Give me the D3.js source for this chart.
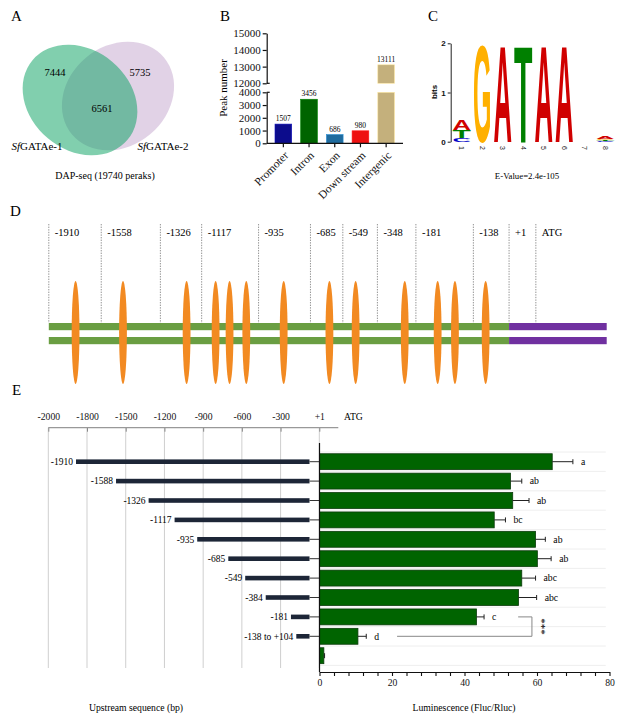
<!DOCTYPE html>
<html lang="en">
<head>
<meta charset="UTF-8">
<title>SfGATAe DAP-seq and promoter activity</title>
<script src="https://d3js.org/d3.v7.min.js"></script>
<style>
  body { margin: 0; background: #fff; }
  svg { display: block; font-family: "Liberation Serif", "Times New Roman", serif; }
</style>
</head>
<body>
<div id="chart"></div>
<script>
// ---------- data ----------
// A: overlap of peaks
const vennSets = ["GATAe-1", "GATAe-2"];
const vennCounts = [7444, 6561, 5735];       // only set 1, both, only set 2
const vennTotal = 19740;

// B: peak distribution
const peakCategories = ["Promoter", "Intron", "Exon", "Down stream", "Intergenic"];
const peakCounts = [1507, 3456, 686, 980, 13111];
const peakColors = ["#0c0c8c", "#006400", "#1f6b9e", "#ee1111", "#c4b07c"];
const peakLowTicks = [0, 1000, 2000, 3000, 4000];
const peakHighTicks = [12000, 13000, 14000, 15000];

// C: motif logo
const motifPositions = ["1", "2", "3", "4", "5", "6", "7", "8"];
const motifBases = [["C", "T", "A"], ["G"], ["A"], ["T"], ["A"], ["A"], [], ["C", "T", "G", "A"]];
const motifBits = [[0.07, 0.16, 0.2], [2.0], [2.0], [2.0], [2.0], [2.0], [], [0.015, 0.02, 0.03, 0.045]];
const baseColors = { A: "#d00000", C: "#0000c8", G: "#ffb000", T: "#008000" };
const eValue = "E-Value=2.4e-105";

// D: promoter schematic (positions on a 0-100 schematic track)
const markerLabels = ["-1910", "-1558", "-1326", "-1117", "-935", "-685", "-549", "-348", "-181", "-138", "+1", "ATG"];
const markerTrack = [0, 9.4, 20.0, 27.4, 37.6, 46.9, 52.7, 58.9, 65.8, 76.1, 82.5, 87.3];
const gataSiteTrack = [4.8, 13.3, 24.7, 29.9, 32.4, 35.4, 42.1, 50.3, 55.0, 63.8, 69.7, 72.8, 78.3];
const tssTrack = 82.5;

// E: deletion constructs and LUC activity
const upstreamTicks = ["-2000", "-1800", "-1500", "-1200", "-900", "-600", "-300", "+1"];
const constructStarts = [-1910, -1588, -1326, -1117, -935, -685, -549, -384, -181, -138];
const constructLabels = ["-1910", "-1588", "-1326", "-1117", "-935", "-685", "-549", "-384", "-181", "-138 to +104"];
const lucMeans = [64.2, 52.7, 53.3, 48.2, 59.6, 60.1, 55.8, 54.9, 43.3, 10.6, 1.2];
const lucErrors = [5.7, 3.1, 4.5, 3.1, 2.7, 3.8, 3.8, 5.0, 2.1, 2.3, 0.2];
const sigLetters = ["a", "ab", "ab", "bc", "ab", "ab", "abc", "abc", "c", "d", ""];

// ---------- setup ----------
const W = 624, H = 719;
const serif = "'Liberation Serif', 'Times New Roman', serif";
const sans = "'Liberation Sans', Arial, Helvetica, sans-serif";

const svg = d3.select("#chart").append("svg")
    .attr("width", W)
    .attr("height", H);
svg.append("rect").attr("width", W).attr("height", H).attr("fill", "#fff");

function styleAxis(g, size, family, color) {
    g.attr("font-family", family).attr("font-size", size);
    g.selectAll("line, path").attr("stroke", color);
    g.selectAll("text").attr("fill", "#111");
}

// panel letters
[["A", 11, 21], ["B", 220, 21], ["C", 428, 21], ["D", 10, 216], ["E", 12, 395]].forEach(([t, x, y]) => {
    svg.append("text").attr("x", x).attr("y", y).attr("font-size", 15).text(t);
});

// ---------- A: Venn ----------
const gA = svg.append("g");
gA.append("ellipse")
    .attr("cx", 118).attr("cy", 96).attr("rx", 60).attr("ry", 50)
    .attr("transform", "rotate(-40,118,96)")
    .attr("fill", "#c3a5cd").attr("fill-opacity", 0.5);
gA.append("ellipse")
    .attr("cx", 80).attr("cy", 100).attr("rx", 62).attr("ry", 50)
    .attr("transform", "rotate(40,80,100)")
    .attr("fill", "#04a05e").attr("fill-opacity", 0.5);

const vennNumPos = [[55, 72], [102, 108], [140, 72]];
vennCounts.forEach((c, i) => {
    gA.append("text")
        .attr("x", vennNumPos[i][0]).attr("y", vennNumPos[i][1])
        .attr("dy", "0.35em").attr("text-anchor", "middle")
        .attr("font-size", 10.5).text(c);
});
[[37, 150], [163, 150]].forEach(([x, y], i) => {
    const t = gA.append("text").attr("x", x).attr("y", y)
        .attr("text-anchor", "middle").attr("font-size", 11);
    t.append("tspan").attr("font-style", "italic").text("Sf");
    t.append("tspan").text(vennSets[i]);
});
gA.append("text").attr("x", 105).attr("y", 179).attr("text-anchor", "middle")
    .attr("font-size", 10).text(`DAP-seq (${vennTotal} peraks)`);

// ---------- B: peak distribution ----------
const gB = svg.append("g");
const axB = 266.7, baseB = 143.3;
const xB = d3.scaleBand().domain(peakCategories).range([270.5, 399])
    .paddingInner(0.35).paddingOuter(0.175);
const yLow = d3.scaleLinear().domain([0, 4000]).range([baseB, 92.3]);
const yHigh = d3.scaleLinear().domain([12000, 15000]).range([83.3, 33.3]);

peakCounts.forEach((v, i) => {
    const cat = peakCategories[i];
    const x0 = xB(cat), bw = xB.bandwidth();
    const edge = d3.color(peakColors[i]).brighter(0.8);
    const lowTop = yLow(Math.min(v, 4000));
    gB.append("rect").attr("x", x0).attr("y", lowTop)
        .attr("width", bw).attr("height", baseB - lowTop)
        .attr("fill", peakColors[i]).attr("stroke", edge).attr("stroke-width", 0.6);
    let labelY = lowTop;
    if (v > 4000) {
        const hiTop = yHigh(v);
        gB.append("rect").attr("x", x0).attr("y", hiTop)
            .attr("width", bw).attr("height", yHigh(12000) - hiTop)
            .attr("fill", peakColors[i]).attr("stroke", edge).attr("stroke-width", 0.6);
        labelY = hiTop;
    }
    gB.append("text").attr("x", x0 + bw / 2).attr("y", labelY - 3)
        .attr("text-anchor", "middle").attr("font-size", 7.5).text(v);
});

const gBl = gB.append("g").attr("transform", `translate(${axB},0)`)
    .call(d3.axisLeft(yLow).tickValues(peakLowTicks).tickFormat(d3.format("d"))
        .tickSize(4).tickSizeOuter(0).tickPadding(2));
const gBh = gB.append("g").attr("transform", `translate(${axB},0)`)
    .call(d3.axisLeft(yHigh).tickValues(peakHighTicks).tickFormat(d3.format("d"))
        .tickSize(4).tickSizeOuter(0).tickPadding(2));
[gBl, gBh].forEach(g => { styleAxis(g, 11, serif, "#111"); g.selectAll("line, path").attr("stroke-width", 1.2); });
// break marks
[yHigh(12000), yLow(4000)].forEach(y => {
    gB.append("line").attr("x1", axB).attr("x2", axB + 3).attr("y1", y).attr("y2", y)
        .attr("stroke", "#111").attr("stroke-width", 1.2);
});
const gBx = gB.append("g").attr("transform", `translate(0,${baseB})`)
    .call(d3.axisBottom(xB).tickSize(4).tickSizeOuter(0));
gBx.select(".domain").remove();
styleAxis(gBx, 11.5, serif, "#111");
gBx.selectAll("line").attr("stroke-width", 1.2);
gBx.selectAll("text")
    .attr("y", 0).attr("dy", "0.35em")
    .attr("transform", "translate(3,10) rotate(-45)")
    .style("text-anchor", "end");
gB.append("line").attr("x1", axB).attr("x2", 403).attr("y1", baseB).attr("y2", baseB)
    .attr("stroke", "#111").attr("stroke-width", 1.2);
gB.append("text").attr("transform", `translate(227,88) rotate(-90)`)
    .attr("text-anchor", "middle").attr("font-size", 11).text("Peak number");

// ---------- C: motif logo ----------
const gC = svg.append("g");
const axC = 450.7;
const yC = d3.scaleLinear().domain([0, 2]).range([141.7, 43.3]);
const xC = d3.scaleBand().domain(motifPositions).range([451.5, 615.5]).paddingInner(0.1).paddingOuter(0.05);

function glyph(ch, x, yTop, w, h, color) {
    const t = gC.append("text").text(ch)
        .attr("font-family", sans).attr("font-weight", "bold")
        .attr("font-size", 100).attr("fill", color);
    const bw = t.node().getBBox().width;
    const cap = 71.6;
    t.attr("transform", `translate(${x},${yTop + h}) scale(${w / bw},${h / cap})`);
}

motifPositions.forEach((p, i) => {
    let acc = 0;
    motifBases[i].forEach((b, j) => {
        const v = motifBits[i][j];
        const yBot = yC(acc), yTop = yC(acc + v);
        glyph(b, xC(p), yTop, xC.bandwidth(), yBot - yTop, baseColors[b]);
        acc += v;
    });
});
const gCy = gC.append("g").attr("transform", `translate(${axC},0)`)
    .call(d3.axisLeft(yC).tickValues([0, 1, 2]).tickFormat(d3.format("d")).tickSize(3).tickSizeOuter(0).tickPadding(2));
styleAxis(gCy, 8, sans, "#222");
gCy.attr("font-weight", "bold");
motifPositions.forEach(p => {
    gC.append("text")
        .attr("transform", `translate(${xC(p) + xC.bandwidth() / 2},146) rotate(90)`)
        .attr("dy", "0.35em").attr("font-family", sans).attr("font-size", 7).attr("fill", "#222").text(p);
});
gC.append("text").attr("transform", "translate(437,92) rotate(-90)")
    .attr("text-anchor", "middle").attr("font-family", sans).attr("font-weight", "bold")
    .attr("font-size", 8).text("bits");
gC.append("text").attr("x", 527).attr("y", 179).attr("text-anchor", "middle")
    .attr("font-size", 8.8).text(eValue);

// ---------- D: promoter schematic ----------
const gD = svg.append("g");
const xD = d3.scaleLinear().domain([0, 100]).range([48.8, 606.7]);
const strandY = [323, 337], strandH = 7.2;
markerTrack.forEach((m, i) => {
    gD.append("line").attr("x1", xD(m)).attr("x2", xD(m)).attr("y1", 224).attr("y2", strandY[0])
        .attr("stroke", "#666").attr("stroke-width", 0.7).attr("stroke-dasharray", "1.4,1.2");
    gD.append("text").attr("x", xD(m) + 6).attr("y", 236).attr("font-size", 10.5).text(markerLabels[i]);
});
strandY.forEach(y => {
    gD.append("rect").attr("x", xD(0)).attr("y", y).attr("width", xD(tssTrack) - xD(0)).attr("height", strandH)
        .attr("fill", "#6a9e42");
    gD.append("rect").attr("x", xD(tssTrack)).attr("y", y).attr("width", xD(100) - xD(tssTrack)).attr("height", strandH)
        .attr("fill", "#7030a0");
});
gataSiteTrack.forEach(s => {
    gD.append("ellipse").attr("cx", xD(s)).attr("cy", 332.5).attr("rx", 3.9).attr("ry", 51.5)
        .attr("fill", "#f28a22");
});

// ---------- E: deletion constructs ----------
const gE = svg.append("g");
const rowIds = d3.range(lucMeans.length);
const yE = d3.scaleBand().domain(rowIds).range([452, 665.4]).paddingInner(0.18).paddingOuter(0.09);
const xE = d3.scaleLinear().domain([0, 80]).range([319.5, 609.5]);
const xUp = d3.scalePoint().domain(upstreamTicks).range([48.3, 319.3]);
const xCon = d3.scaleLinear().domain([-1910, -138]).range([76, 296.3]);
const rowMid = i => yE(i) + yE.bandwidth() / 2;
const axisTopY = 427.7, tickLen = 10;

// vertical grid of the upstream axis
upstreamTicks.forEach(t => {
    gE.append("line").attr("x1", xUp(t)).attr("x2", xUp(t)).attr("y1", axisTopY).attr("y2", 668)
        .attr("stroke", "#cfcfcf").attr("stroke-width", 1);
});
const gUp = gE.append("g").attr("transform", `translate(0,${axisTopY})`)
    .call(d3.axisTop(xUp).tickSizeInner(-4).tickSizeOuter(0).tickPadding(8));
gUp.select(".domain").remove();
styleAxis(gUp, 9.7, serif, "#888");
gE.append("line").attr("x1", 48.3).attr("x2", 338.3).attr("y1", axisTopY).attr("y2", axisTopY)
    .attr("stroke", "#999").attr("stroke-width", 1.2);
gE.append("text").attr("x", 344).attr("y", axisTopY - 8).attr("font-size", 9.7).text("ATG");

// construct bars
constructStarts.forEach((s, i) => {
    const x0 = xCon(s), x1 = xE(0) - tickLen;
    gE.append("rect").attr("x", x0).attr("y", rowMid(i) - 2.3).attr("width", x1 - x0).attr("height", 4.6)
        .attr("fill", "#1d2637");
    gE.append("text").attr("x", x0 - 3).attr("y", rowMid(i)).attr("dy", "0.35em")
        .attr("text-anchor", "end").attr("font-size", 9.5).text(constructLabels[i]);
});

// dotted row grid
d3.range(rowIds.length + 1).forEach(k => {
    const y = yE.range()[0] + k * yE.step();
    gE.append("line").attr("x1", xE(0)).attr("x2", xE(79)).attr("y1", y).attr("y2", y)
        .attr("stroke", "#cfcfcf").attr("stroke-width", 0.7).attr("stroke-dasharray", "1,1");
});

// luminescence bars
lucMeans.forEach((m, i) => {
    const cy = rowMid(i);
    gE.append("rect").attr("x", xE(0)).attr("y", yE(i)).attr("width", xE(m) - xE(0)).attr("height", yE.bandwidth())
        .attr("fill", "#006400").attr("stroke", "#0b3b0b").attr("stroke-width", 0.8);
    const xe = xE(m + lucErrors[i]);
    gE.append("line").attr("x1", xE(m)).attr("x2", xe).attr("y1", cy).attr("y2", cy)
        .attr("stroke", "#222").attr("stroke-width", 1);
    gE.append("line").attr("x1", xe).attr("x2", xe).attr("y1", cy - 2.5).attr("y2", cy + 2.5)
        .attr("stroke", "#222").attr("stroke-width", 1);
    if (sigLetters[i]) {
        gE.append("text").attr("x", xe + 8).attr("y", cy).attr("dy", "0.35em")
            .attr("font-size", 9.7).text(sigLetters[i]);
    }
});

// significance bracket between -181 and -138 constructs
const brR = xE(58.6);
gE.append("path")
    .attr("d", `M${xE(54.8)},${rowMid(8)} H${brR} V${rowMid(9)} H${xE(21.4)}`)
    .attr("fill", "none").attr("stroke", "#888").attr("stroke-width", 1);
gE.append("text")
    .attr("transform", `translate(${brR + 14},${(rowMid(8) + rowMid(9)) / 2}) rotate(90)`)
    .attr("text-anchor", "middle").attr("dy", "0.7em").attr("font-size", 11).text("***");

// axes of the right panel
const gEy = gE.append("g").attr("transform", `translate(${xE(0)},0)`)
    .call(d3.axisLeft(yE).tickValues(rowIds.slice(0, constructStarts.length)).tickSize(tickLen).tickFormat(""));
gEy.select(".domain").remove();
styleAxis(gEy, 9.7, serif, "#333");
gE.append("line").attr("x1", xE(0)).attr("x2", xE(0)).attr("y1", 443).attr("y2", 672)
    .attr("stroke", "#111").attr("stroke-width", 1.2);
const gEx = gE.append("g").attr("transform", "translate(0,672)")
    .call(d3.axisBottom(xE).tickValues(d3.range(0, 81, 4)).tickSize(4).tickSizeOuter(0).tickPadding(3)
        .tickFormat(d => d % 20 === 0 ? d : ""));
styleAxis(gEx, 9.7, serif, "#111");
gEx.selectAll("line, path").attr("stroke-width", 1.1);

gE.append("text").attr("x", 136).attr("y", 711).attr("text-anchor", "middle")
    .attr("font-size", 9.7).text("Upstream sequence (bp)");
gE.append("text").attr("x", 464).attr("y", 711).attr("text-anchor", "middle")
    .attr("font-size", 9.7).text("Luminescence (Fluc/Rluc)");
</script>
</body>
</html>
